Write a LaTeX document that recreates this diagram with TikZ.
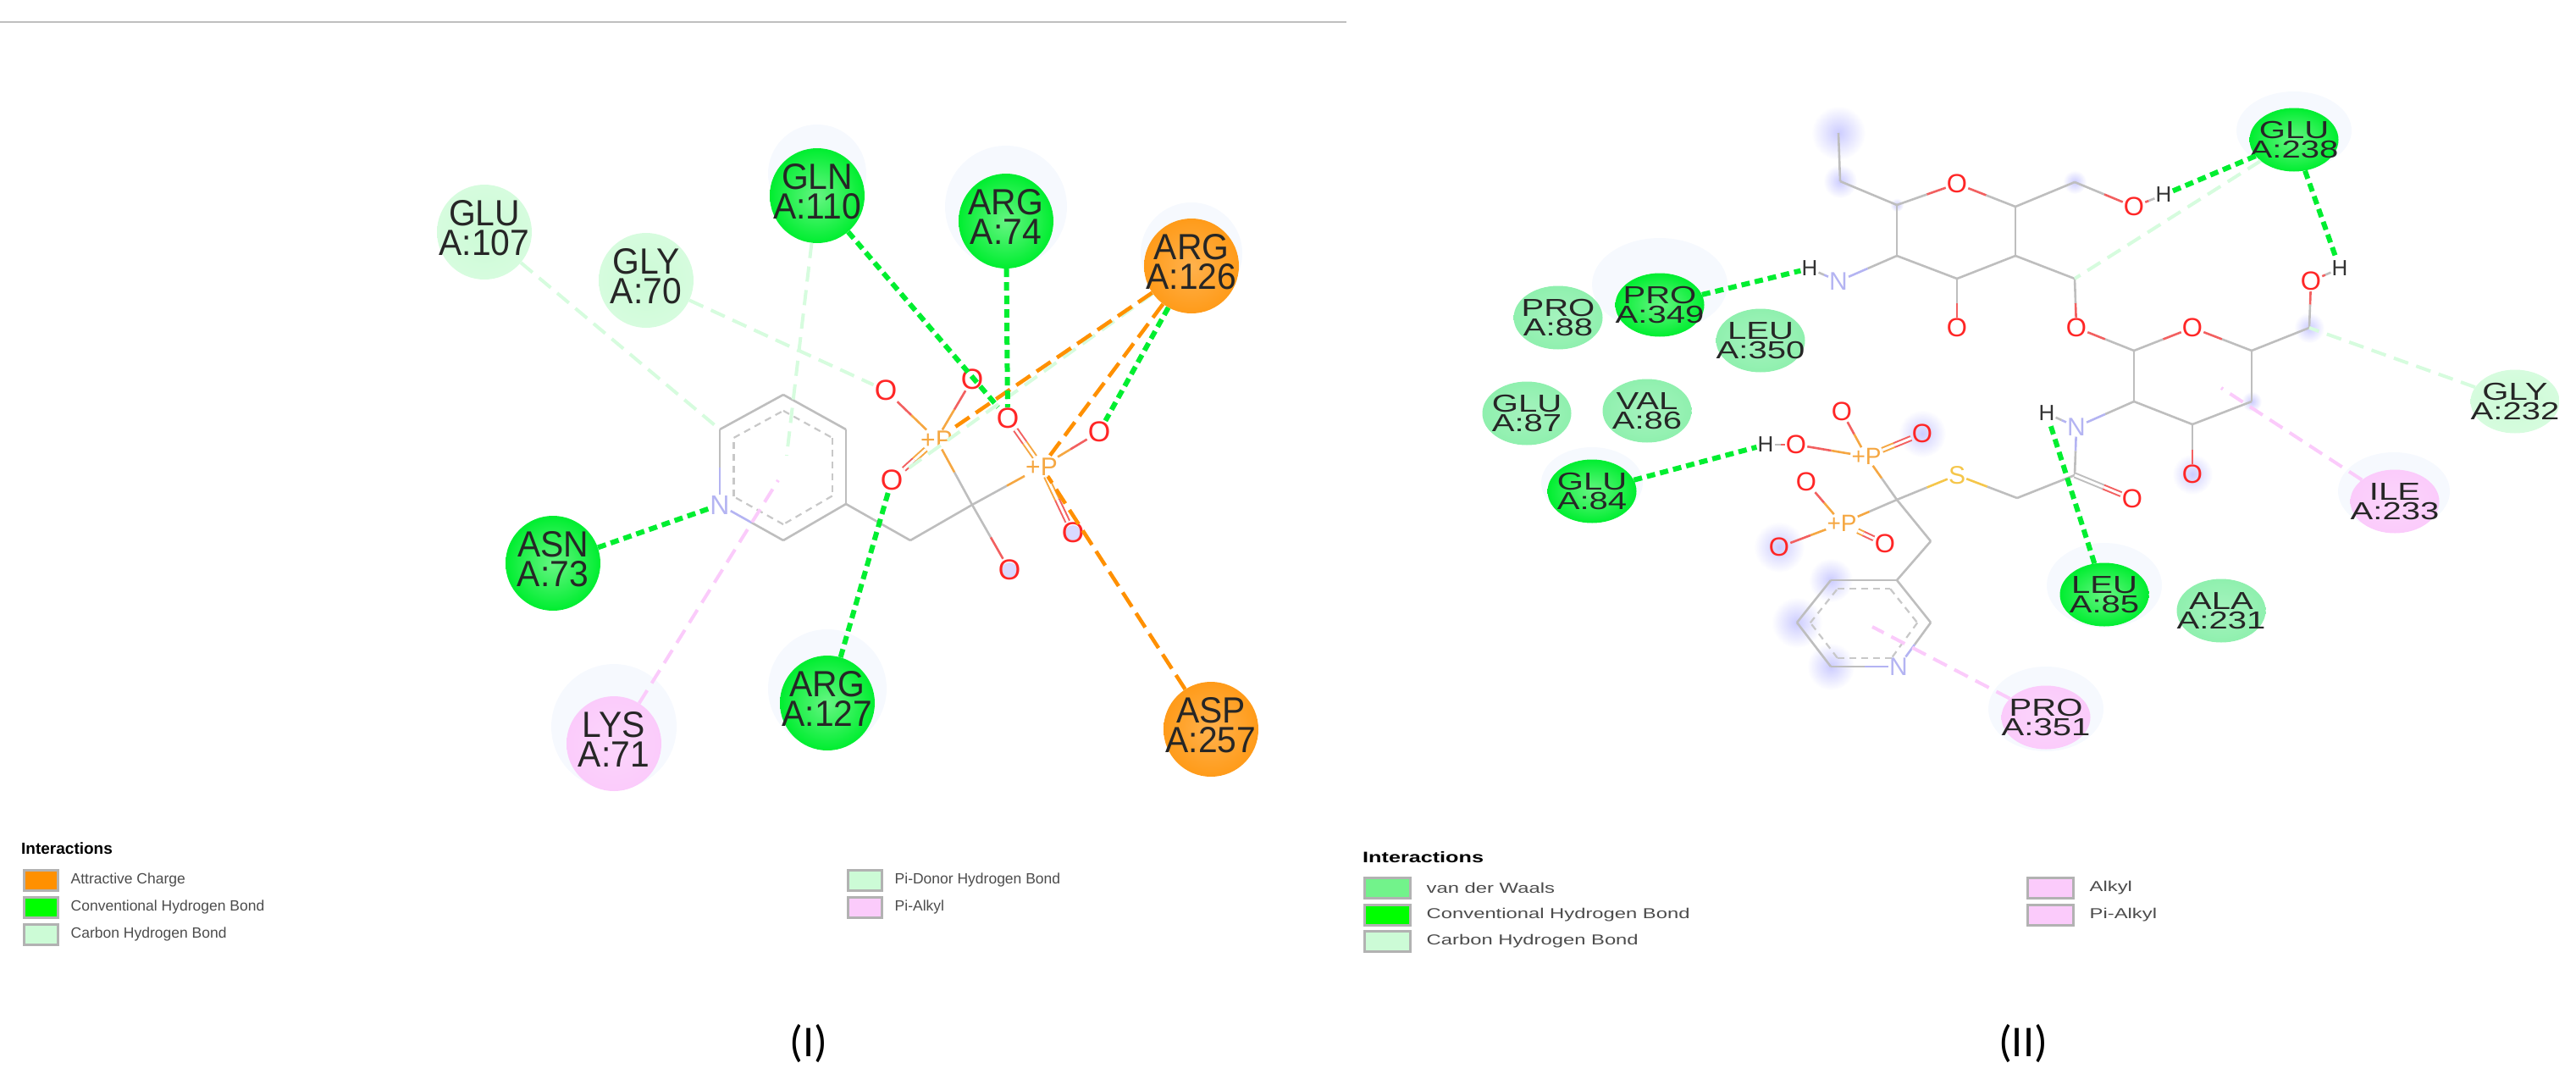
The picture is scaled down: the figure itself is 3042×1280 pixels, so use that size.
\documentclass[tikz,border=0pt]{standalone}
\usepackage{fontspec}
\setmainfont{Liberation Sans}
\newfontfamily\resfont[FakeStretch=0.95]{Liberation Sans}
\newfontfamily\widefont[FakeStretch=1.38]{Liberation Sans}
\newfontfamily\legwide[FakeStretch=1.4]{Liberation Sans}
\newfontfamily\capfont{Carlito}
\usetikzlibrary{positioning,calc,shapes.geometric}
\definecolor{chargeorange}{HTML}{FF9000}
\definecolor{convgreen}{HTML}{00EE30}
\definecolor{carbongreen}{HTML}{CCFBD6}
\definecolor{vdwgreen}{HTML}{8FF0AE}
\definecolor{alkylpink}{HTML}{FBCBFB}
\definecolor{bondgrey}{HTML}{BEBEBE}
\definecolor{bondred}{HTML}{F26060}
\definecolor{bondorange}{HTML}{F5A742}
\definecolor{bondblue}{HTML}{B4B4F2}
\definecolor{bondyellow}{HTML}{F5C64A}
\definecolor{halopale}{HTML}{F6F9FE}
\tikzset{
  resI/.style={ellipse,inner sep=0pt,minimum width=112pt,minimum height=112pt},
  resII/.style={ellipse,inner sep=0pt,minimum width=105pt,minimum height=75pt},
  reslabI/.style={inner sep=0pt,align=center,yshift=5pt,text=black!85,font=\resfont\fontsize{43}{35.5}\selectfont},
  reslabII/.style={inner sep=0pt,align=center,text=black!85,font=\widefont\fontsize{29}{22.5}\selectfont},
  chargeres/.style={inner color=chargeorange!70!white,outer color=chargeorange!90!white},
  convres/.style={inner color=convgreen!60!white,outer color=convgreen},
  carbonres/.style={inner color=carbongreen,outer color=carbongreen!80!white},
  vdwres/.style={inner color=vdwgreen!80!white,outer color=vdwgreen},
  alkylres/.style={inner color=alkylpink!80!white,outer color=alkylpink},
  halo/.style={fill=halopale},
  blob/.style={inner color=blue!20!white,outer color=white,draw=none},
  atomtxt/.style={inner sep=1pt,font=\fontsize{#1}{#1}\selectfont},
  bond/.style={line width=2.6pt},
  dbl/.style={line width=2pt,double=white,double distance=3pt},
  aromatic/.style={line width=2.2pt,bondgrey!85!white,dash pattern=on 8pt off 6pt},
  conv/.style={line width=6pt,convgreen,dash pattern=on 10pt off 6pt},
  charge/.style={line width=4.5pt,chargeorange,dash pattern=on 20pt off 9pt},
  carbon/.style={line width=4pt,carbongreen!80!white,dash pattern=on 18pt off 10pt},
  alkyl/.style={line width=4pt,alkylpink,dash pattern=on 18pt off 10pt},
  swatch/.style={draw=black!30,line width=3pt,inner sep=0pt,minimum height=24pt},
  legtxt/.style={inner sep=0pt,text=black!70,font=\fontsize{17.5}{18}\selectfont},
  legtxtII/.style={inner sep=0pt,text=black!70,font=\legwide\fontsize{17}{18}\selectfont},
}
\newcommand{\halfbond}[5][bond]{%
  \draw[#1,#3] (#2) -- ($(#2)!.5!(#4)$);
  \draw[#1,#5] ($(#2)!.5!(#4)$) -- (#4);
}
\begin{document}
\begin{tikzpicture}[x=1pt,y=-1pt]
  \useasboundingbox (0,0) rectangle (3042,1280);
  \draw[line width=2pt,black!25] (0,26) -- (1590,26);

  % halos and blurred patches
  \foreach \x/\y/\rx/\ry in {1188/244/72/72,1407/299/60/60,725/858/74/74,977/813/70/70,965/205/58/58,
      1960/336/80/55,2709/154/68/46,2485/691/68/50,2827/580/66/46,2416/837/68/50,1880/570/60/42}
    \fill[halo] (\x,\y) ellipse [x radius=\rx,y radius=\ry];
  \foreach \x/\y/\rad in {2171/157/32,2173/214/20,2240/242/8,2450/215/14,2270/512/28,2101/646/30,2162/685/26,
      2122/735/30,2162/787/28,2727/387/18,2659/474/12,2589/560/24}
    \shade[blob] (\x,\y) circle [radius=\rad];
  \fill[blue!15!white] (1267,629) circle [radius=9];
  \fill[blue!15!white] (1192,673) circle [radius=9];

  % panel I residues
  \foreach \name/\x/\y/\lab/\num/\kind in {glu107/572/274/GLU/107/carbonres,gly70/763/331/GLY/70/carbonres,
      gln110/965/231/GLN/110/convres,arg74/1188/261/ARG/74/convres,arg126/1407/314/ARG/126/chargeres,
      asn73/653/665/ASN/73/convres,lys71/725/878/LYS/71/alkylres,arg127/977/830/ARG/127/convres,
      asp257/1430/861/ASP/257/chargeres}{
    \node[resI,\kind] (\name) at (\x,\y) {};
    \node[reslabI] (\name-t) at (\name) {\lab\\A:\num};
  }

  % panel I atoms
  \foreach \name/\x/\y in {oa/1046/461,ob/1148/448,oc/1053/567,od/1190/494,oe/1298/510,of/1267/629,og/1192/673}
    \node[atomtxt=34,text=red!85!white] (\name) at (\x,\y) {O};
  \node[atomtxt=30,text=bondorange] (pa) at (1106,519) {+P};
  \node[atomtxt=30,text=bondorange] (pb) at (1230,551) {+P};
  \node[atomtxt=32,text=bondblue] (na) at (850,596) {N};
  \foreach \name/\x/\y in {ra/925/466,rb/999/507,rc/999/595,rd/925/638,rf/850/507,ch/1075/638,ca/1148/596}
    \coordinate (\name) at (\x,\y);
  \coordinate (rmid) at (925,552);
  \coordinate (pia) at (929,538);
  \coordinate (pib) at (919,567);

  % panel I bonds
  \foreach \a/\b in {ra/rb,rb/rc,rc/rd,rf/ra,rc/ch,ch/ca}
    \draw[bond,bondgrey] (\a) -- (\b);
  \halfbond{rd}{bondgrey}{na}{bondblue}
  \halfbond{na}{bondblue}{rf}{bondgrey}
  \foreach \a/\b in {ra/rb,rb/rc,rc/rd,rd/na,na/rf,rf/ra}
    \draw[aromatic] ($(rmid)!.78!(\a)$) -- ($(rmid)!.78!(\b)$);
  \foreach \a/\ca/\b/\cb in {ca/bondgrey/pa/bondorange,ca/bondgrey/pb/bondorange,ca/bondgrey/og/bondred,
      pa/bondorange/oa/bondred,pa/bondorange/ob/bondred,pb/bondorange/oe/bondred}
    {\halfbond{\a}{\ca}{\b}{\cb}}
  \foreach \a/\ca/\b/\cb in {pa/bondorange/oc/bondred,pb/bondorange/od/bondred,pb/bondorange/of/bondred}
    {\halfbond[dbl]{\a}{\ca}{\b}{\cb}}

  % panel I connectors
  \draw[carbon] (glu107) -- (rf);
  \draw[carbon] (gly70) -- (oa);
  \draw[carbon] (gln110) -- (pia);
  \draw[carbon] (arg126) -- (oc);
  \draw[charge] (arg126) -- (pa);
  \draw[charge] (arg126) -- (pb);
  \draw[charge] (asp257) -- (pb);
  \draw[conv] (gln110) -- (od);
  \draw[conv] (arg74) -- (od);
  \draw[conv] (arg126) -- (oe);
  \draw[conv] (arg127) -- (oc);
  \draw[conv] (asn73) -- (na);
  \draw[alkyl] (lys71) -- (pib);

  % panel I legend
  \node[inner sep=0pt,anchor=west,font=\bfseries\fontsize{19}{20}\selectfont] (titleI) at (25,1002) {Interactions};
  \foreach \name/\x/\y/\col/\txt in {swa/48/1039/chargeorange/Attractive Charge,swb/48/1071/green/Conventional Hydrogen Bond,
      swc/48/1103/carbongreen/Carbon Hydrogen Bond,swd/1021/1039/carbongreen/Pi-Donor Hydrogen Bond,swe/1021/1071/alkylpink/Pi-Alkyl}{
    \node[swatch,fill=\col,minimum width=40pt] (\name) at (\x,\y) {};
    \node[legtxt,right=14pt of \name] (\name-t) {\txt};
  }
  \node[inner sep=0pt,font=\capfont\fontsize{52}{54}\selectfont] (capI) at (955,1232) {(I)};

  % panel II residues
  \foreach \name/\x/\y/\lab/\num/\kind in {glu238/2709/165/GLU/238/convres,pro349/1960/360/PRO/349/convres,
      pro88/1840/375/PRO/88/vdwres,leu350/2079/402/LEU/350/vdwres,glu87/1803/488/GLU/87/vdwres,
      val86/1945/485/VAL/86/vdwres,glu84/1880/580/GLU/84/convres,leu85/2485/702/LEU/85/convres,
      ala231/2623/721/ALA/231/vdwres,ile233/2828/592/ILE/233/alkylres,gly232/2970/474/GLY/232/carbonres,
      pro351/2416/847/PRO/351/alkylres}{
    \node[resII,\kind] (\name) at (\x,\y) {};
    \node[reslabII] (\name-t) at (\name) {\lab\\A:\num};
  }

  % panel II atoms
  \foreach \name/\x/\y in {oh/2311/217,oi/2520/244,oj/2311/387,ok/2452/387,ol/2589/387,om/2729/332,on/2589/560,
      oo/2518/589,op/2175/486,oq/2270/512,or/2121/525,os/2133/569,ot/2101/646,ou/2226/642}
    \node[atomtxt=31,text=red!85!white] (\name) at (\x,\y) {O};
  \foreach \name/\x/\y in {ha/2555/230,hb/2137/317,hc/2763/317,hd/2417/488,he/2085/525}
    \node[atomtxt=26,text=black!80] (\name) at (\x,\y) {H};
  \foreach \name/\x/\y in {nb/2171/332,nc/2452/504,nd/2242/787}
    \node[atomtxt=30,text=bondblue] (\name) at (\x,\y) {N};
  \node[atomtxt=30,text=bondyellow] (sa) at (2311,561) {S};
  \node[atomtxt=28,text=bondorange] (pc) at (2204,539) {+P};
  \node[atomtxt=28,text=bondorange] (pd) at (2175,618) {+P};
  \foreach \name/\x/\y in {ea/2171/157,eb/2173/214,sb/2240/242,sc/2380/244,sd/2380/302,se/2311/329,sf/2240/302,
      sg/2450/215,sh/2450/329,ta/2520/414,tb/2659/414,tc/2659/474,td/2589/501,te/2520/474,tf/2727/387,
      ua/2450/561,ub/2382/588,uc/2240/590,ud/2280/639,va/2240/685,vb/2280/735,vc/2162/787,vd/2122/735,ve/2162/685}
    \coordinate (\name) at (\x,\y);
  \coordinate (vmid) at (2201,736);
  \coordinate (pic) at (2211,740);
  \coordinate (pid) at (2623,458);

  % panel II bonds
  \foreach \a/\b in {ea/eb,eb/sb,sb/sf,sf/se,se/sd,sd/sc,sc/sg,sd/sh,tb/tc,tc/td,td/te,te/ta,tb/tf,
      ua/ub,uc/ud,ud/va,va/vb,vc/vd,vd/ve,ve/va}
    \draw[bond,bondgrey] (\a) -- (\b);
  \foreach \a/\ca/\b/\cb in {sb/bondgrey/oh/bondred,oh/bondred/sc/bondgrey,sg/bondgrey/oi/bondred,oi/bondred/ha/bondgrey,
      se/bondgrey/oj/bondred,sh/bondgrey/ok/bondred,ok/bondred/ta/bondgrey,ta/bondgrey/ol/bondred,ol/bondred/tb/bondgrey,
      tf/bondgrey/om/bondred,om/bondred/hc/bondgrey,td/bondgrey/on/bondred,sf/bondgrey/nb/bondblue,nb/bondblue/hb/bondgrey,
      te/bondgrey/nc/bondblue,nc/bondblue/hd/bondgrey,nc/bondblue/ua/bondgrey,ub/bondgrey/sa/bondyellow,sa/bondyellow/uc/bondgrey,
      uc/bondgrey/pc/bondorange,uc/bondgrey/pd/bondorange,pc/bondorange/op/bondred,pc/bondorange/or/bondred,or/bondred/he/bondgrey,
      pd/bondorange/os/bondred,pd/bondorange/ot/bondred,vb/bondgrey/nd/bondblue,nd/bondblue/vc/bondgrey}
    {\halfbond{\a}{\ca}{\b}{\cb}}
  \foreach \a/\ca/\b/\cb in {ua/bondgrey/oo/bondred,pc/bondorange/oq/bondred,pd/bondorange/ou/bondred}
    {\halfbond[dbl]{\a}{\ca}{\b}{\cb}}
  \foreach \a/\b in {va/vb,vb/nd,nd/vc,vc/vd,vd/ve,ve/va}
    \draw[aromatic] ($(vmid)!.8!(\a)$) -- ($(vmid)!.8!(\b)$);

  % panel II connectors
  \draw[carbon] (glu238) -- (sh);
  \draw[carbon] (gly232) -- (tf);
  \draw[conv] (glu238) -- (ha);
  \draw[conv] (glu238) -- (hc);
  \draw[conv] (pro349) -- (hb);
  \draw[conv] (glu84) -- (he);
  \draw[conv] (leu85) -- (hd);
  \draw[alkyl] (ile233) -- (pid);
  \draw[alkyl] (pro351) -- (pic);

  % panel II legend
  \node[inner sep=0pt,anchor=west,font=\legwide\bfseries\fontsize{18}{20}\selectfont] (titleII) at (1609,1012) {Interactions};
  \foreach \name/\x/\y/\col/\txt in {swf/1638/1048/vdwgreen!80!green/van der Waals,swg/1638/1080/green/Conventional Hydrogen Bond,
      swh/1638/1111/carbongreen/Carbon Hydrogen Bond,swi/2421/1048/alkylpink/Alkyl,swj/2421/1080/alkylpink/Pi-Alkyl}{
    \node[swatch,fill=\col,minimum width=54pt] (\name) at (\x,\y) {};
    \node[legtxtII,right=18pt of \name] (\name-t) {\txt};
  }
  \node[inner sep=0pt,font=\capfont\fontsize{52}{54}\selectfont] (capII) at (2389,1232) {(II)};
\end{tikzpicture}
\end{document}
